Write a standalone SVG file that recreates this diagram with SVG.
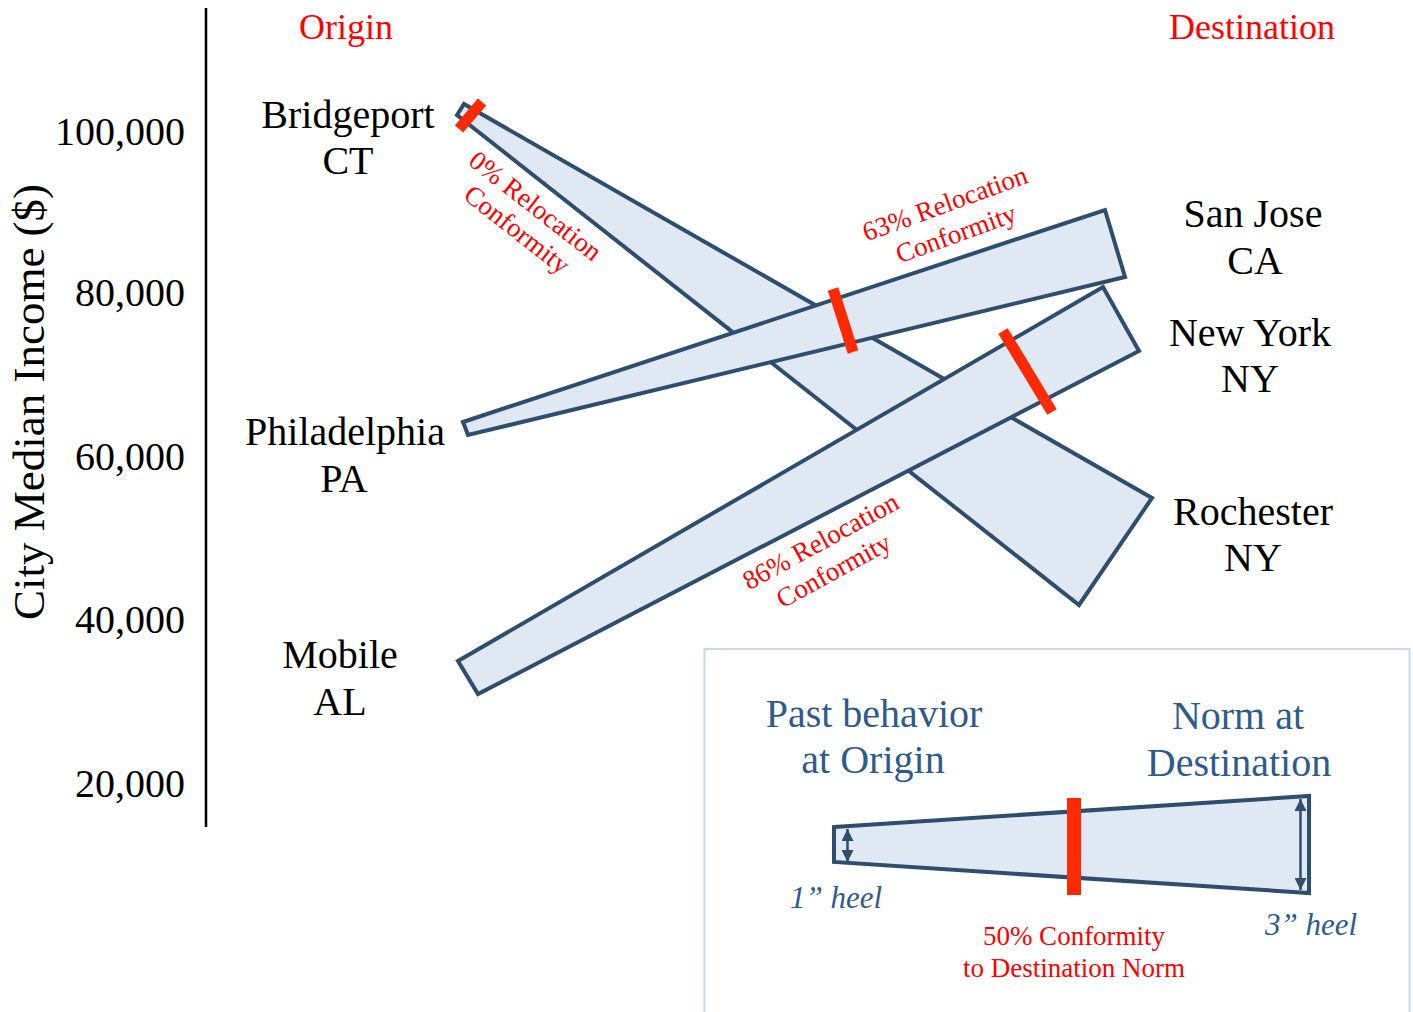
<svg xmlns="http://www.w3.org/2000/svg" width="1413" height="1012" viewBox="0 0 1413 1012">
<defs>
<style>
.serif{font-family:"Liberation Serif","Times New Roman",serif;}
.tick{font-family:"Liberation Serif","Times New Roman",serif;font-size:40px;fill:#000;text-anchor:end;}
.city{font-family:"Liberation Serif","Times New Roman",serif;font-size:40px;fill:#000;text-anchor:middle;}
.head{font-family:"Liberation Serif","Times New Roman",serif;font-size:36px;fill:#ff0000;text-anchor:middle;}
.rl{font-family:"Liberation Serif","Times New Roman",serif;font-size:27px;fill:#ff0000;text-anchor:middle;}
.wedge{fill:#dfe8f3;stroke:#2f4d6e;stroke-width:4;stroke-linejoin:miter;}
.bar{stroke:#ff2a00;stroke-width:11;fill:none;}
.lg{font-family:"Liberation Serif","Times New Roman",serif;font-size:40px;fill:#2f5b8c;text-anchor:middle;}
.heel{font-family:"Liberation Serif","Times New Roman",serif;font-size:31px;font-style:italic;fill:#2f5b8c;text-anchor:middle;}
.arr{stroke:#2f4d6e;stroke-width:2.5;fill:none;marker-start:url(#ah);marker-end:url(#ah);}
</style>
<marker id="ah" viewBox="0 0 10 10" refX="10" refY="5" markerWidth="12" markerHeight="12" orient="auto-start-reverse" markerUnits="userSpaceOnUse">
<path d="M0,0 L10,5 L0,10 z" fill="#2f4d6e"/>
</marker>
</defs>
<rect width="1413" height="1012" fill="#fff"/>

<g id="axis">
<line x1="206" y1="8" x2="206" y2="827" stroke="#000" stroke-width="2.5"/>
<text class="tick" x="185" y="145">100,000</text>
<text class="tick" x="185" y="306">80,000</text>
<text class="tick" x="185" y="470">60,000</text>
<text class="tick" x="185" y="633">40,000</text>
<text class="tick" x="185" y="797">20,000</text>
<text class="serif" font-size="45" text-anchor="middle" transform="translate(44,402) rotate(-90)">City Median Income ($)</text>
</g>

<g id="headers">
<text class="head" x="346" y="39">Origin</text>
<text class="head" x="1252" y="39">Destination</text>
</g>

<g id="connectors">
<polygon id="bridgeport-rochester" class="wedge" points="457,115 464,104 1152,498 1079,605"/>
<polygon id="philadelphia-sanjose" class="wedge" points="463,422 1105,210 1125,277 468,435"/>
<polygon id="mobile-newyork" class="wedge" points="458,661 1103,287 1139,351 478,694"/>
<line class="bar" x1="459" y1="129" x2="482" y2="102"/>
<line class="bar" x1="833" y1="289" x2="853" y2="352"/>
<line class="bar" x1="1003" y1="331" x2="1052" y2="412" stroke-width="12"/>
</g>

<g id="labels-conformity">
<g transform="translate(530,213) rotate(38)">
<text class="rl" x="0" y="0">0% Relocation</text>
<text class="rl" x="0" y="30">Conformity</text>
</g>
<g transform="translate(948,212) rotate(-20)">
<text class="rl" x="0" y="0">63% Relocation</text>
<text class="rl" x="0" y="32">Conformity</text>
</g>
<g transform="translate(825,549) rotate(-28.7)">
<text class="rl" x="0" y="0">86% Relocation</text>
<text class="rl" x="-3" y="32">Conformity</text>
</g>
</g>

<g id="node-bridgeport"><text class="city" x="348" y="128">Bridgeport</text><text class="city" x="348" y="174">CT</text></g>
<g id="node-philadelphia"><text class="city" x="345" y="445">Philadelphia</text><text class="city" x="344" y="492">PA</text></g>
<g id="node-mobile"><text class="city" x="340" y="668">Mobile</text><text class="city" x="340" y="715">AL</text></g>
<g id="node-sanjose"><text class="city" x="1253" y="227">San Jose</text><text class="city" x="1255" y="274">CA</text></g>
<g id="node-newyork"><text class="city" x="1250" y="346">New York</text><text class="city" x="1250" y="392">NY</text></g>
<g id="node-rochester"><text class="city" x="1253" y="525">Rochester</text><text class="city" x="1253" y="571">NY</text></g>

<g id="legend">
<rect x="704.5" y="649" width="705" height="380" fill="none" stroke="#c6d9f1" stroke-width="2"/>
<text class="lg" x="874" y="727">Past behavior</text>
<text class="lg" x="873" y="773">at Origin</text>
<text class="lg" x="1238" y="729">Norm at</text>
<text class="lg" x="1239" y="776">Destination</text>
<polygon class="wedge" points="834,827 1309,796 1309,893 834,862" stroke-width="4.5"/>
<line class="arr" x1="847.5" y1="829" x2="847.5" y2="862"/>
<line class="arr" x1="1300.5" y1="799" x2="1300.5" y2="890"/>
<rect x="1067" y="798" width="14" height="97" fill="#ff2a00"/>
<text class="heel" x="836" y="908">1” heel</text>
<text class="heel" x="1311" y="935">3” heel</text>
<text class="rl" x="1074" y="945">50% Conformity</text>
<text class="rl" x="1074" y="977">to Destination Norm</text>
</g>
</svg>
